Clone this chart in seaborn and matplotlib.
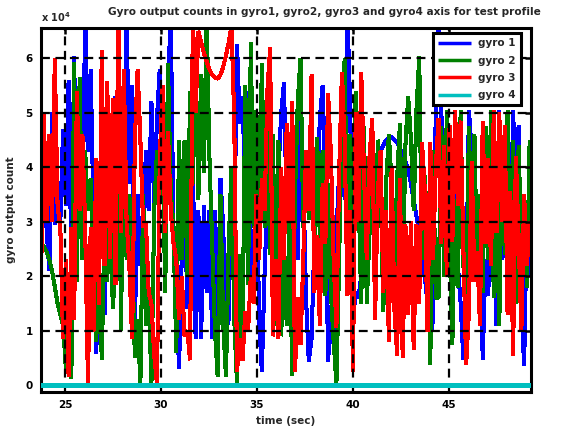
import numpy as np
import pandas as pd
import matplotlib
matplotlib.use("Agg")
import matplotlib.pyplot as plt
from matplotlib.ticker import FuncFormatter
import seaborn as sns

# ---------------- data (values in units of 1e4 counts) ----------------
T_START, T_END, T_AXIS_END = 23.75, 49.2, 49.27
SCALE = 1e4
SERIES_LABELS = ["gyro 1", "gyro 2", "gyro 3", "gyro 4"]
SERIES_COLORS = ["#0000ff", "#008000", "#ff0000", "#00bfbf"]

GYRO1 = [
    2.8, 4.5, 2.9, 2.1, 5.0, 2.95, 3.7, 3.0, 4.7, 3.3, 5.6, 2.2, 6.03, 2.9, 5.3, 3.0, 6.8, 4.3, 5.8, 3.2, 0.58, 2.4, 4.3, 1.3, 5.0, 3.7, 4.2, 5.3,
    5.2, 2.9, 3.55, 6.8, 3.7, 5.5, 1.1, 3.5, 2.2, 2.8, 4.3, 3.2, 5.2, 3.25, 4.9, 5.8, 4.4, 2.8, 5.5, 6.8, 2.75, 1.7, 0.3, 2.4, 3.8, 1.4, 2.5, 4.1, 0.85,
    3.2, 0.85, 3.3, 1.7, 3.2, 0.85, 3.2, 1.1, 3.8, 2.9, 1.0, 1.2, 4.0, 2.6, 6.25, 4.8, 5.3, 3.4, 5.4, 2.5, 1.5, 4.3, 1.2, 0.25, 2.1, 3.4, 4.8, 2.2, 2.3,
    3.9, 5.0, 5.55, 3.2, 4.1, 1.1, 3.3, 2.3, 5.0, 3.8, 1.6, 0.43, 0.85, 2.6, 3.4, 4.9, 5.5, 3.7, 0.43, 1.45, 0.73, 2.8, 3.9, 4.65, 3.4, 6.8, 5.1, 1.2, 1.7,
    1.6, 2.0, 2.5, 2.9, 3.3, 3.7, 4.0, 4.15, 4.3, 4.4, 4.5, 4.55, 4.55, 4.5, 4.45, 4.35, 4.25, 4.1, 3.95, 3.7, 3.4, 3.1, 2.8, 2.4, 2.0, 1.5, 0.85, 1.2, 5.1,
    6.8, 5.05, 3.0, 4.1, 4.6, 3.0, 3.6, 2.2, 1.5, 0.46, 1.7, 5.05, 4.3, 3.5, 2.65, 3.0, 0.46, 2.3, 1.65, 3.5, 2.7, 1.1, 5.05, 2.3, 2.9, 2.0, 2.15, 5.05, 3.4, 4.77, 1.5, 0.35, 3.2, 2.0,
]
GYRO2 = [
    2.6, 2.55, 2.45, 2.3, 2.1, 1.8, 1.5, 1.3, 1.1, 0.3, 0.6, 0.12, 5.93, 1.9, 5.65, 2.3, 4.3, 3.2, 3.8, 2.0, 0.8, 2.4, 0.46, 2.9, 1.9, 3.8, 1.4, 2.2,
    5.75, 1.0, 5.8, 2.3, 3.5, 2.5, 0.5, 1.2, 0.03, 3.5, 1.1, 1.7, 0.03, 3.2, 4.3, 3.4, 4.6, 1.7, 5.9, 3.55, 2.9, 0.6, 4.5, 2.3, 4.5, 2.0, 5.4, 3.7, 6.05,
    3.4, 5.7, 3.9, 6.8, 4.2, 2.6, 1.0, 0.15, 3.5, 1.1, 0.15, 2.6, 4.0, 1.2, 0.03, 2.4, 0.85, 5.5, 1.85, 6.3, 2.9, 5.05, 2.94, 5.9, 2.9, 4.8, 2.4, 4.6, 1.1,
    4.5, 0.9, 2.6, 1.1, 3.0, 0.18, 3.5, 5.2, 6.0, 2.9, 4.3, 3.05, 4.3, 2.3, 4.55, 2.7, 4.3, 1.65, 3.7, 1.7, 0.8, 0.03, 2.3, 5.1, 6.0, 2.3, 4.6, 2.3, 5.4,
    3.6, 1.5, 4.75, 1.5, 2.8, 3.7, 2.1, 4.5, 3.7, 1.35, 3.7, 4.6, 3.7, 2.1, 3.8, 4.8, 1.8, 4.4, 5.3, 4.5, 3.2, 5.05, 6.03, 2.3, 3.85, 2.7, 0.37, 4.3, 1.6,
    1.6, 4.75, 2.0, 5.05, 2.6, 0.75, 3.4, 1.8, 5.05, 2.2, 1.3, 4.75, 2.5, 4.6, 1.9, 3.5, 1.7, 4.75, 2.3, 5.05, 1.6, 3.3, 1.1, 4.5, 2.4, 5.05, 2.0, 4.5, 1.5, 4.4, 2.5, 3.5, 1.8, 4.5,
]
GYRO3 = [
    1.9, 5.0, 3.0, 4.6, 3.0, 6.0, 3.3, 2.9, 0.85, 2.3, 0.15, 2.9, 1.2, 5.4, 3.2, 4.6, 2.9, 0.05, 2.9, 0.98, 4.16, 1.47, 6.15, 2.2, 5.57, 2.32, 5.26, 1.84,
    6.8, 2.8, 5.8, 3.0, 2.2, 0.85, 4.5, 5.8, 4.5, 2.9, 3.0, 1.7, 1.5, 0.55, 0.03, 4.1, 5.5, 2.8, 4.65, 3.2, 2.6, 2.3, 1.2, 2.0, 0.9, 1.0, 0.46, 6.8, 5.0,
    6.5, 6.3, 6.1, 5.95, 5.8, 5.7, 5.65, 5.63, 5.7, 5.85, 6.05, 6.3, 6.6, 4.9, 0.25, 0.85, 0.45, 1.35, 1.0, 2.0, 1.5, 3.5, 2.3, 3.8, 3.2, 5.4, 6.2, 0.9, 2.3,
    0.85, 4.0, 2.3, 4.8, 3.0, 5.2, 0.25, 1.6, 0.75, 2.3, 4.3, 3.2, 5.7, 1.7, 2.75, 1.1, 3.7, 2.6, 5.35, 4.25, 2.3, 1.05, 3.9, 5.75, 4.5, 1.65, 3.2, 0.25, 5.0,
    3.0, 5.75, 3.9, 2.3, 4.2, 4.9, 1.2, 3.55, 4.3, 1.7, 3.2, 0.8, 4.0, 1.4, 0.55, 3.8, 0.5, 2.94, 1.3, 3.0, 0.65, 2.94, 1.5, 4.46, 3.6, 0.98, 4.46, 2.3, 4.0,
    4.9, 2.6, 4.4, 2.0, 4.77, 2.63, 5.05, 3.3, 4.85, 2.5, 0.37, 1.35, 4.1, 1.9, 2.45, 1.1, 4.85, 2.6, 4.16, 2.2, 5.05, 2.8, 5.0, 3.0, 4.77, 1.3, 3.55, 0.55, 4.2, 2.7, 1.0, 3.5, 2.2, 3.0,
]
GYRO4 = [0.0, 0.0]

X_TICKS = [25, 30, 35, 40, 45]
Y_TICKS = [0, 1, 2, 3, 4, 5, 6]
X_LIM = (23.75, 49.27)
Y_LIM = (-0.13, 6.56)
TITLE = "Gyro output counts in gyro1, gyro2, gyro3 and gyro4 axis for test profile"
XLABEL = "time (sec)"
YLABEL = "gyro output count"
EXPONENT = r"x 10$^{4}$"

# ---------------- build long table ----------------
frames = []
for lab, vals in zip(SERIES_LABELS, [GYRO1, GYRO2, GYRO3, GYRO4]):
    end = T_AXIS_END if lab == "gyro 4" else T_END
    t = np.linspace(T_START, end, len(vals))
    frames.append(pd.DataFrame({"time": t, "count": np.asarray(vals) * SCALE, "series": lab}))
df = pd.concat(frames, ignore_index=True)

# ---------------- style ----------------
sns.set_style("white")
plt.rcParams["font.family"] = ["DejaVu Sans"]
plt.rcParams["font.weight"] = "bold"

fig = plt.figure(figsize=(5.62, 4.30), dpi=100)
ax = fig.add_axes([41 / 562, 1 - 392 / 430, 490 / 562, 364 / 430])

sns.lineplot(data=df, x="time", y="count", hue="series", hue_order=SERIES_LABELS,
             palette=SERIES_COLORS, linewidth=2.2, estimator=None, sort=False, ax=ax)

for i, line in enumerate(ax.get_lines()):
    line.set_antialiased(False)
    line.set_solid_joinstyle("bevel")
    line.set_solid_capstyle("butt")
    if i == 3:
        line.set_zorder(4)

ax.set_xlim(*X_LIM)
ax.set_ylim(Y_LIM[0] * SCALE, Y_LIM[1] * SCALE)
ax.set_xticks(X_TICKS)
ax.set_yticks([v * SCALE for v in Y_TICKS])
ax.yaxis.set_major_formatter(FuncFormatter(lambda v, p: f"{v / SCALE:g}"))

ax.grid(True, color="black", linestyle=(0, (4, 2.5)), linewidth=1.6)
ax.set_axisbelow(False)

for s in ax.spines.values():
    s.set_linewidth(2.2)
    s.set_color("black")
ax.tick_params(direction="in", length=4, width=1.8, top=True, right=True,
               labelsize=7.5, colors="black", pad=6)
for lab in ax.get_xticklabels() + ax.get_yticklabels():
    lab.set_fontweight("bold")

ax.set_xlabel(XLABEL, fontsize=7.5, fontweight="bold", labelpad=4)
ax.set_ylabel(YLABEL, fontsize=7.5, fontweight="bold", labelpad=7)

fig.text(108 / 562, 1 - 12 / 430, TITLE, ha="left", va="center", fontsize=7.6, fontweight="bold")
fig.text(41 / 562, 1 - 17 / 430, EXPONENT, ha="left", va="center", fontsize=7, fontweight="bold")

handles, labels = ax.get_legend_handles_labels()
leg = ax.legend(handles, labels, loc="upper right", bbox_to_anchor=(0.98, 0.986),
                frameon=True, fancybox=False, edgecolor="black", framealpha=1,
                prop={"size": 7.5, "weight": "bold"}, handlelength=3.2, labelspacing=0.7,
                borderpad=0.5, borderaxespad=0, handletextpad=0.7)
leg.get_frame().set_linewidth(2.2)
leg.set_zorder(10)
for l in leg.get_lines():
    l.set_linewidth(2.5)

fig.savefig("out.png", dpi=100)
